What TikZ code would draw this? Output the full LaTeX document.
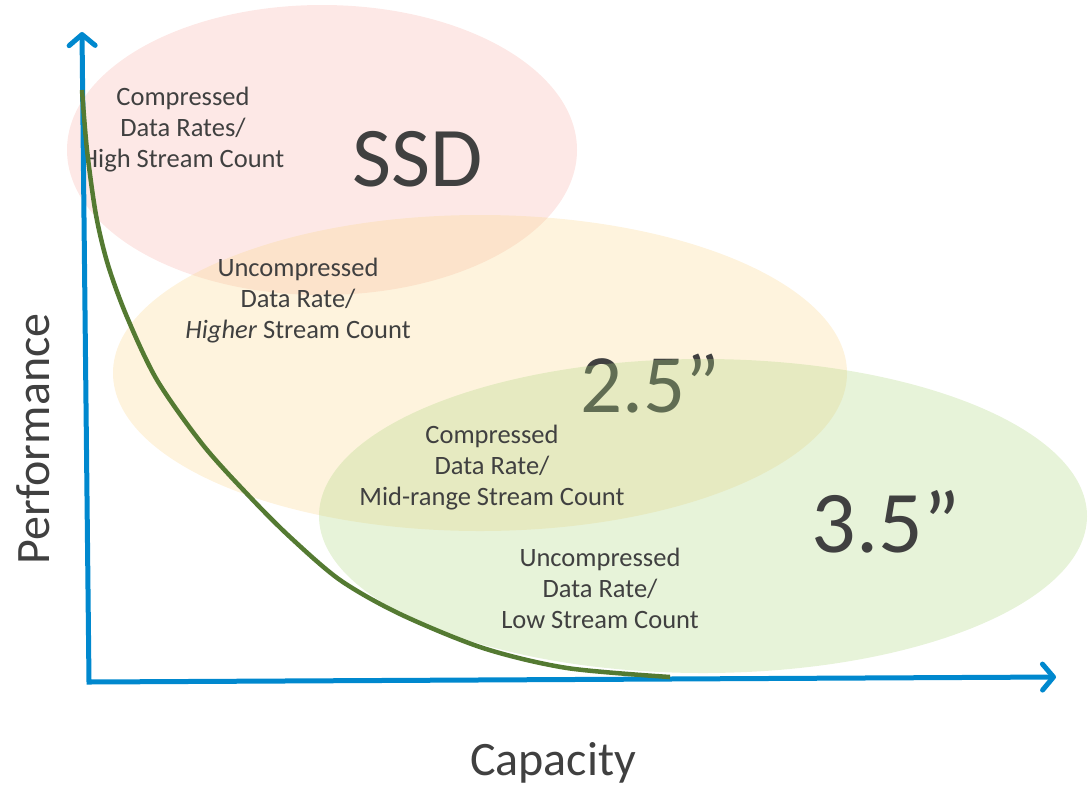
\documentclass[tikz,border=0pt]{standalone}
\usepackage{fontspec}
\setmainfont{Carlito}
\usetikzlibrary{arrows.meta}
\definecolor{txtgray}{RGB}{64,64,64}
\definecolor{axisblue}{RGB}{0,136,206}
\definecolor{curvegreen}{RGB}{84,122,50}
\definecolor{pinkbase}{RGB}{248,180,172}
\definecolor{yellowbase}{RGB}{250,212,130}
\definecolor{greenbase}{RGB}{176,214,128}
\tikzset{
  smalltxt/.style={text=txtgray, align=center, font=\fontsize{26.5}{31}\selectfont, inner sep=0pt},
  bigtxt/.style={text=txtgray, font=\fontsize{85}{95}\selectfont, inner sep=0pt, anchor=base},
  axislabel/.style={text=txtgray, font=\fontsize{48}{56}\selectfont, inner sep=0pt, anchor=base},
  blob/.style={fill opacity=0.3},
  axisline/.style={draw=axisblue, line width=5pt, line join=miter,
     {Straight Barb[length=11pt,width=26pt,line cap=round,line join=round]}-{Straight Barb[length=11pt,width=26pt,line cap=round,line join=round]}},
  curveline/.style={draw=curvegreen, line width=4.5pt}
}
\begin{document}
\begin{tikzpicture}[x=1pt,y=-1pt]
\useasboundingbox (0,0) rectangle (1089,788);
% SSD ellipse
\fill[pinkbase, blob] (322,150) ellipse [x radius=255pt, y radius=145pt];
\node[smalltxt] (t1) at (183,130) {Compressed\\Data Rates/\\High Stream Count};
\node[bigtxt] (ssd) at (418,186) {SSD};
% 2.5 ellipse
\fill[yellowbase, blob, fill opacity=0.27] (480,373) ellipse [x radius=367pt, y radius=158pt];
\node[smalltxt] (t2) at (298,301) {Uncompressed\\Data Rate/\\\textit{Higher} Stream Count};
\node[bigtxt, font=\fontsize{83}{93}\selectfont] (d25) at (650,412) {2.5”};
% 3.5 ellipse
\fill[greenbase, blob] (703,516) ellipse [x radius=384pt, y radius=157pt];
\node[smalltxt] (t3) at (492,468) {Compressed\\Data Rate/\\Mid-range Stream Count};
\node[bigtxt, font=\fontsize{88}{98}\selectfont] (d35) at (886,552) {3.5”};
\node[smalltxt] (t4) at (600,588) {Uncompressed\\Data Rate/\\Low Stream Count};
% axes
\coordinate (ytip) at (82,32);
\coordinate (origin) at (89,682);
\coordinate (xtip) at (1056,677);
\draw[axisline] (ytip) -- (origin) -- (xtip);
% curve
\draw[curveline] plot[smooth, tension=0.5] coordinates {(82,90) (87,150) (96,215) (108,265) (127,317) (157,380) (203,445) (250,497) (290,537) (340,580) (400,614) (483,648) (567,668) (670,677)};
% axis labels
\node[axislabel, rotate=90] (perf) at (49,439) {Performance};
\node[axislabel] (cap) at (553,775) {Capacity};
\end{tikzpicture}
\end{document}
